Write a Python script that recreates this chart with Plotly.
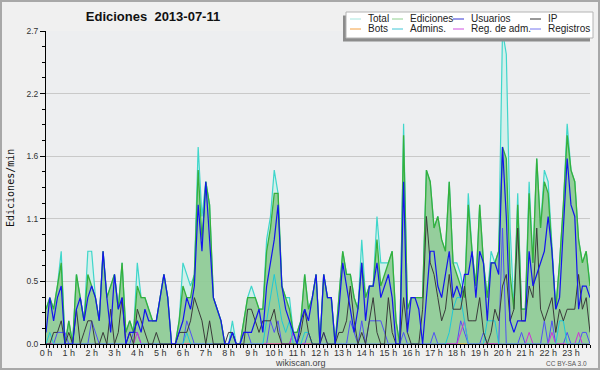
import plotly.graph_objects as go

# ---------------- data (edits per minute, 10-minute slots) ----------------
SLOTS = list(range(144))
HOUR_TICKS = list(range(0, 144, 6))
HOUR_LABELS = ["0 h", "1 h", "2 h", "3 h", "4 h", "5 h", "6 h", "7 h", "8 h", "9 h",
               "10 h", "11 h", "12 h", "13 h", "14 h", "15 h", "16 h", "17 h", "18 h",
               "19 h", "20 h", "21 h", "22 h", "23 h"]
Y_TICKS = [0.0, 0.54, 1.08, 1.62, 2.16, 2.7]
Y_LABELS = ["0.0", "0.5", "1.1", "1.6", "2.2", "2.7"]

total = [
    0.3, 0.4, 0.3, 0.5, 0.8, 0.0,
    0.2, 0.0, 0.6, 0.4, 0.2, 0.8,
    0.8, 0.4, 0.2, 0.8, 0.4, 0.5,
    0.6, 0.3, 0.7, 0.1, 0.2, 0.1,
    0.7, 0.4, 0.4, 0.3, 0.2, 0.2,
    0.4, 0.6, 0.4, 0.0, 0.0, 0.2,
    0.7, 0.6, 0.5, 0.6, 1.7, 1.1,
    1.4, 1.2, 0.4, 0.3, 0.2, 0.0,
    0.0, 0.2, 0.0, 0.0, 0.2, 0.4,
    0.5, 0.4, 0.3, 0.3, 0.9, 1.1,
    1.5, 1.3, 0.5, 0.4, 0.4, 0.1,
    0.1, 0.2, 0.6, 0.3, 0.4, 0.6,
    0.0, 0.6, 0.4, 0.4, 0.0, 0.4,
    0.8, 0.6, 0.6, 0.4, 0.3, 0.9,
    0.4, 0.5, 0.5, 1.1, 0.7, 0.7,
    0.7, 0.8, 0.2, 0.0, 1.9, 0.3,
    0.4, 0.4, 0.4, 0.4, 1.5, 1.4,
    1.0, 1.1, 0.9, 0.8, 1.4, 0.7,
    0.7, 0.6, 0.4, 1.3, 0.8, 0.5,
    1.2, 0.7, 0.4, 0.8, 0.7, 0.8,
    2.7, 2.5, 1.0, 0.3, 1.3, 0.3,
    0.3, 1.4, 0.7, 1.6, 1.0, 1.5,
    1.4, 0.8, 0.3, 0.7, 1.2, 1.9,
    1.5, 1.4, 0.9, 0.7, 0.8, 0.5,
]

ediciones = [
    0.3, 0.4, 0.3, 0.5, 0.7, 0.0,
    0.2, 0.0, 0.6, 0.4, 0.2, 0.6,
    0.5, 0.4, 0.2, 0.8, 0.4, 0.5,
    0.6, 0.3, 0.7, 0.1, 0.2, 0.1,
    0.5, 0.4, 0.4, 0.3, 0.2, 0.2,
    0.4, 0.6, 0.4, 0.0, 0.0, 0.2,
    0.5, 0.4, 0.4, 0.6, 1.5, 0.9,
    1.4, 1.2, 0.4, 0.3, 0.2, 0.0,
    0.0, 0.1, 0.0, 0.0, 0.2, 0.4,
    0.4, 0.4, 0.3, 0.3, 0.8, 1.0,
    1.3, 1.3, 0.5, 0.4, 0.3, 0.1,
    0.1, 0.2, 0.6, 0.3, 0.4, 0.6,
    0.0, 0.6, 0.4, 0.4, 0.0, 0.4,
    0.8, 0.6, 0.6, 0.4, 0.3, 0.7,
    0.4, 0.5, 0.5, 0.9, 0.5, 0.6,
    0.7, 0.8, 0.2, 0.0, 1.8, 0.3,
    0.4, 0.4, 0.4, 0.4, 1.5, 1.4,
    1.0, 1.1, 0.9, 0.8, 1.4, 0.7,
    0.6, 0.5, 0.4, 1.2, 0.8, 0.5,
    1.2, 0.7, 0.4, 0.7, 0.7, 0.8,
    1.7, 1.6, 0.6, 0.3, 1.2, 0.3,
    0.3, 1.3, 0.7, 1.6, 1.0, 1.4,
    1.3, 0.8, 0.3, 0.7, 1.2, 1.8,
    1.5, 1.4, 0.9, 0.7, 0.8, 0.5,
]

usuarios = [
    0.1, 0.4, 0.2, 0.4, 0.5, 0.0,
    0.0, 0.0, 0.3, 0.4, 0.2, 0.4,
    0.5, 0.4, 0.2, 0.8, 0.4, 0.1,
    0.6, 0.3, 0.4, 0.0, 0.1, 0.1,
    0.2, 0.1, 0.3, 0.2, 0.2, 0.2,
    0.4, 0.6, 0.4, 0.0, 0.0, 0.1,
    0.2, 0.4, 0.3, 0.5, 1.2, 0.8,
    1.4, 0.9, 0.4, 0.3, 0.2, 0.0,
    0.0, 0.1, 0.0, 0.0, 0.1, 0.1,
    0.1, 0.2, 0.3, 0.1, 0.5, 0.7,
    0.9, 1.2, 0.5, 0.3, 0.2, 0.1,
    0.0, 0.2, 0.3, 0.2, 0.4, 0.6,
    0.0, 0.6, 0.4, 0.4, 0.0, 0.3,
    0.7, 0.5, 0.3, 0.1, 0.3, 0.7,
    0.2, 0.5, 0.5, 0.7, 0.4, 0.5,
    0.6, 0.4, 0.0, 0.0, 1.4, 0.1,
    0.4, 0.4, 0.3, 0.0, 0.4, 0.8,
    0.8, 0.5, 0.4, 0.6, 0.8, 0.4,
    0.5, 0.4, 0.6, 0.6, 0.8, 0.4,
    0.8, 0.7, 0.2, 0.7, 0.7, 0.6,
    1.7, 1.1, 0.2, 0.1, 0.2, 0.2,
    0.2, 0.8, 0.5, 0.6, 0.7, 0.8,
    1.1, 0.8, 0.3, 0.4, 1.0, 1.6,
    1.2, 1.1, 0.3, 0.5, 0.5, 0.4,
]

ip = [
    0.0, 0.0, 0.1, 0.1, 0.2, 0.0,
    0.1, 0.0, 0.3, 0.0, 0.1, 0.2,
    0.2, 0.0, 0.0, 0.1, 0.0, 0.3,
    0.0, 0.1, 0.4, 0.0, 0.1, 0.0,
    0.3, 0.2, 0.1, 0.0, 0.0, 0.1,
    0.0, 0.0, 0.0, 0.0, 0.0, 0.1,
    0.1, 0.1, 0.2, 0.4, 0.3, 0.2,
    0.0, 0.2, 0.0, 0.0, 0.0, 0.0,
    0.1, 0.1, 0.0, 0.0, 0.0, 0.3,
    0.3, 0.2, 0.1, 0.2, 0.2, 0.2,
    0.3, 0.1, 0.0, 0.0, 0.0, 0.0,
    0.0, 0.1, 0.3, 0.1, 0.0, 0.0,
    0.0, 0.1, 0.0, 0.0, 0.0, 0.1,
    0.1, 0.2, 0.5, 0.2, 0.0, 0.1,
    0.0, 0.2, 0.4, 0.1, 0.0, 0.0,
    0.4, 0.1, 0.0, 0.0, 0.4, 0.1,
    0.0, 0.0, 0.0, 0.3, 1.1, 0.7,
    0.6, 0.4, 0.2, 0.3, 0.6, 0.3,
    0.3, 0.3, 0.5, 0.2, 0.2, 0.2,
    0.4, 0.1, 0.0, 0.1, 0.3, 0.2,
    0.5, 0.6, 0.2, 0.3, 1.0, 0.2,
    0.2, 0.5, 0.4, 1.0, 0.3, 0.2,
    0.3, 0.4, 0.1, 0.3, 0.2, 0.3,
    0.3, 0.3, 0.6, 0.3, 0.4, 0.1,
]

bots = [0.0] * 144

admins = [
    0.0, 0.1, 0.0, 0.0, 0.0, 0.0,
    0.0, 0.0, 0.0, 0.0, 0.0, 0.0,
    0.0, 0.0, 0.0, 0.0, 0.0, 0.0,
    0.0, 0.0, 0.0, 0.0, 0.0, 0.0,
    0.0, 0.0, 0.0, 0.0, 0.0, 0.0,
    0.0, 0.0, 0.0, 0.0, 0.0, 0.0,
    0.0, 0.1, 0.0, 0.0, 0.0, 0.0,
    0.0, 0.0, 0.0, 0.0, 0.0, 0.0,
    0.0, 0.0, 0.0, 0.0, 0.0, 0.0,
    0.0, 0.0, 0.0, 0.0, 0.2, 0.4,
    0.6, 0.4, 0.2, 0.1, 0.2, 0.0,
    0.0, 0.0, 0.1, 0.1, 0.0, 0.0,
    0.0, 0.0, 0.0, 0.0, 0.0, 0.0,
    0.0, 0.0, 0.0, 0.0, 0.0, 0.0,
    0.0, 0.0, 0.0, 0.0, 0.0, 0.0,
    0.0, 0.0, 0.0, 0.0, 0.0, 0.0,
    0.0, 0.0, 0.0, 0.0, 0.0, 0.0,
    0.0, 0.0, 0.0, 0.0, 0.1, 0.3,
    0.4, 0.4, 0.2, 0.0, 0.0, 0.0,
    0.0, 0.0, 0.2, 0.2, 0.2, 0.0,
    0.0, 0.0, 0.0, 0.0, 0.0, 0.0,
    0.0, 0.0, 0.0, 0.0, 0.0, 0.0,
    0.0, 0.0, 0.0, 0.2, 0.2, 0.0,
    0.0, 0.0, 0.0, 0.0, 0.0, 0.0,
]

reg_adm = [
    0.0, 0.0, 0.0, 0.0, 0.0, 0.0,
    0.0, 0.0, 0.0, 0.0, 0.0, 0.0,
    0.0, 0.0, 0.0, 0.0, 0.0, 0.0,
    0.0, 0.0, 0.0, 0.0, 0.0, 0.0,
    0.1, 0.0, 0.0, 0.0, 0.0, 0.0,
    0.0, 0.0, 0.0, 0.0, 0.0, 0.0,
    0.0, 0.0, 0.0, 0.0, 0.0, 0.0,
    0.0, 0.0, 0.0, 0.0, 0.0, 0.0,
    0.0, 0.0, 0.0, 0.0, 0.0, 0.0,
    0.0, 0.0, 0.0, 0.0, 0.0, 0.0,
    0.0, 0.0, 0.0, 0.0, 0.0, 0.1,
    0.0, 0.0, 0.0, 0.0, 0.0, 0.0,
    0.0, 0.0, 0.0, 0.0, 0.0, 0.0,
    0.0, 0.0, 0.0, 0.0, 0.0, 0.0,
    0.0, 0.0, 0.0, 0.0, 0.0, 0.0,
    0.0, 0.0, 0.0, 0.0, 0.0, 0.0,
    0.0, 0.0, 0.0, 0.0, 0.0, 0.0,
    0.0, 0.0, 0.0, 0.0, 0.0, 0.0,
    0.0, 0.1, 0.2, 0.0, 0.0, 0.0,
    0.0, 0.0, 0.0, 0.0, 0.0, 0.0,
    0.0, 0.0, 0.0, 0.0, 0.0, 0.0,
    0.0, 0.1, 0.0, 0.0, 0.0, 0.0,
    0.0, 0.1, 0.0, 0.0, 0.0, 0.0,
    0.0, 0.0, 0.1, 0.0, 0.0, 0.0,
]

registros = [
    0.0, 0.0, 0.0, 0.1, 0.1, 0.1,
    0.0, 0.0, 0.0, 0.0, 0.0, 0.0,
    0.2, 0.1, 0.0, 0.0, 0.0, 0.0,
    0.0, 0.0, 0.0, 0.0, 0.0, 0.1,
    0.1, 0.0, 0.0, 0.0, 0.0, 0.0,
    0.0, 0.0, 0.0, 0.0, 0.0, 0.0,
    0.0, 0.2, 0.1, 0.0, 0.0, 0.0,
    0.0, 0.0, 0.0, 0.0, 0.0, 0.0,
    0.0, 0.1, 0.0, 0.0, 0.1, 0.1,
    0.0, 0.0, 0.0, 0.0, 0.0, 0.2,
    0.1, 0.2, 0.0, 0.0, 0.0, 0.1,
    0.0, 0.0, 0.0, 0.1, 0.0, 0.0,
    0.0, 0.1, 0.0, 0.0, 0.0, 0.0,
    0.0, 0.0, 0.2, 0.1, 0.0, 0.2,
    0.0, 0.2, 0.2, 0.2, 0.2, 0.1,
    0.0, 0.0, 0.0, 0.0, 0.1, 0.0,
    0.0, 0.0, 0.0, 0.0, 0.0, 0.0,
    0.1, 0.0, 0.0, 0.0, 0.0, 0.0,
    0.0, 0.2, 0.1, 0.0, 0.0, 0.0,
    0.0, 0.1, 0.0, 0.0, 0.0, 0.0,
    1.0, 0.0, 0.0, 0.0, 0.0, 0.1,
    0.0, 0.0, 0.0, 0.0, 0.0, 0.2,
    0.0, 0.2, 0.0, 0.0, 0.0, 0.1,
    0.0, 0.0, 0.0, 0.1, 0.1, 0.0,
]

SERIES_NAMES = ["Total", "Ediciones", "Usuarios", "IP",
                "Bots", "Admins.", "Reg. de adm.", "Registros"]

# ---------------- geometry helpers (layout only) ----------------
W, H = 600, 370
ML, MR, MT, MB = 46, 10, 31, 26
PW = W - ML - MR
PH = H - MT - MB


def px(x):
    return (x - ML) / PW


def py(y):
    return (H - MB - y) / PH


fig = go.Figure()

fig.add_trace(go.Scatter(x=SLOTS, y=total, name="Total", mode="lines",
                         line=dict(color="#3fd6cb", width=1.2),
                         fill="tozeroy", fillcolor="rgba(200,240,234,0.75)"))
fig.add_trace(go.Scatter(x=SLOTS, y=ediciones, name="Ediciones", mode="lines",
                         line=dict(color="#35b03c", width=1.3),
                         fill="tozeroy", fillcolor="rgba(125,192,125,0.72)"))
fig.add_trace(go.Scatter(x=SLOTS, y=bots, name="Bots", mode="lines",
                         line=dict(color="#ff9a30", width=1)))
fig.add_trace(go.Scatter(x=SLOTS, y=registros, name="Registros", mode="lines",
                         line=dict(color="#5050f5", width=1)))
fig.add_trace(go.Scatter(x=SLOTS, y=reg_adm, name="Reg. de adm.", mode="lines",
                         line=dict(color="#d030d8", width=1)))
fig.add_trace(go.Scatter(x=SLOTS, y=admins, name="Admins.", mode="lines",
                         line=dict(color="#1ec8d8", width=1)))
fig.add_trace(go.Scatter(x=SLOTS, y=ip, name="IP", mode="lines",
                         line=dict(color="#3a3a3a", width=1)))
fig.add_trace(go.Scatter(x=SLOTS, y=usuarios, name="Usuarios", mode="lines",
                         line=dict(color="#1414ee", width=1.2)))

fig.update_layout(
    width=W, height=H,
    margin=dict(l=ML, r=MR, t=MT, b=MB),
    paper_bgcolor="#f0f0f0",
    plot_bgcolor="#edeef0",
    showlegend=False,
    font=dict(family="Liberation Sans, Arial, sans-serif", color="#222"),
    title=dict(text="Ediciones\u00a0 2013-07-11", x=153 / W, xanchor="center",
               y=1 - 16 / H, yanchor="middle",
               font=dict(family="Liberation Sans, Arial, sans-serif", size=13,
                         color="#111", weight="bold")),
    xaxis=dict(range=[0, 143], tickmode="array", tickvals=HOUR_TICKS,
               ticktext=HOUR_LABELS, ticks="outside", ticklen=3, tickwidth=1,
               tickcolor="black", showline=True, linecolor="black", linewidth=1,
               showgrid=False, zeroline=False, ticklabelstandoff=-3,
               tickfont=dict(size=9, color="#333"),
               minor=dict(tickmode="linear", tick0=0, dtick=1, ticks="outside",
                          ticklen=3, tickwidth=1, tickcolor="black", showgrid=False)),
    yaxis=dict(range=[0, 2.7], tickmode="array", tickvals=Y_TICKS,
               ticktext=Y_LABELS, ticks="outside", ticklen=5, tickwidth=1,
               tickcolor="black", showline=True, linecolor="black", linewidth=1,
               showgrid=True, gridcolor="#c9c9c9", gridwidth=1, zeroline=False,
               tickfont=dict(size=8.5, color="#333"),
               minor=dict(tickmode="linear", tick0=0, dtick=0.135, ticks="outside",
                          ticklen=3, tickwidth=1, tickcolor="black", showgrid=False)),
)

shapes = []
annotations = []

# outer frame
shapes.append(dict(type="rect", xref="paper", yref="paper", layer="above",
                   x0=px(1), x1=px(599), y0=py(1), y1=py(369),
                   line=dict(color="#a8a8a8", width=2), fillcolor="rgba(0,0,0,0)"))

# legend box with shadow
shapes.append(dict(type="rect", xref="paper", yref="paper", layer="above",
                   x0=px(343), x1=px(590), y0=py(15.5), y1=py(41.5),
                   line=dict(width=0), fillcolor="#8c8c8c"))
shapes.append(dict(type="rect", xref="paper", yref="paper", layer="above",
                   x0=px(346), x1=px(593), y0=py(12), y1=py(38),
                   line=dict(color="#b4b4b4", width=1), fillcolor="white"))

LEG_COLORS = ["#a6e6df", "#8fd08f", "#3434d4", "#333333",
              "#f4a040", "#40c6d6", "#d050e0", "#7676f0"]
col_line_x = [350, 392, 453, 530]
col_text_x = [366, 408, 469, 545.5]
row_y = [19, 29]
for k, name in enumerate(SERIES_NAMES):
    r, c = divmod(k, 4)
    shapes.append(dict(type="line", xref="paper", yref="paper", layer="above",
                       x0=px(col_line_x[c]), x1=px(col_line_x[c] + 11),
                       y0=py(row_y[r]), y1=py(row_y[r]),
                       line=dict(color=LEG_COLORS[k], width=1)))
    annotations.append(dict(text=name, xref="paper", yref="paper",
                            x=px(col_text_x[c]), y=py(row_y[r]),
                            xanchor="left", yanchor="middle", showarrow=False,
                            font=dict(size=10, color="#222")))

# axis title
annotations.append(dict(text="Ediciones/min", xref="paper", yref="paper",
                        x=px(10), y=py(188), textangle=-90, showarrow=False,
                        xanchor="center", yanchor="middle",
                        font=dict(family="DejaVu Sans Mono, monospace", size=10,
                                  color="#111")))
# footer texts
annotations.append(dict(text="wikiscan.org", xref="paper", yref="paper",
                        x=px(300), y=py(362.5), showarrow=False,
                        xanchor="center", yanchor="middle",
                        font=dict(size=9, color="#444")))
annotations.append(dict(text="CC BY-SA 3.0", xref="paper", yref="paper",
                        x=px(589), y=py(363.5), showarrow=False,
                        xanchor="right", yanchor="middle",
                        font=dict(size=6.5, color="#555")))

fig.update_layout(shapes=shapes, annotations=annotations)

fig.write_html("out.html",
               config={"displayModeBar": False},
               post_script="document.body.style.margin='0';"
                           "document.body.style.padding='0';")
